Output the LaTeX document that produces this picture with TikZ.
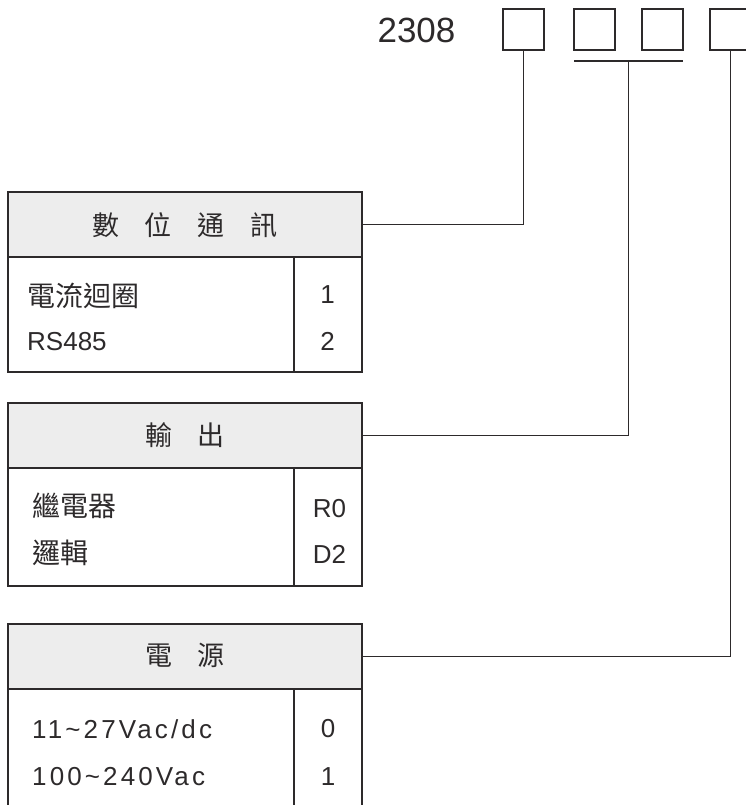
\documentclass[tikz,border=0pt]{standalone}
\usepackage{fontspec}
\setmainfont{Liberation Sans}
\newfontfamily\cjk{Noto Sans CJK TC}
\newfontfamily\spaced[LetterSpace=12]{Liberation Sans}
\definecolor{ink}{RGB}{45,42,43}
\definecolor{hdrfill}{RGB}{237,237,237}
\begin{document}
\begin{tikzpicture}[x=1pt,y=-1pt,
  frame/.style={draw=ink,line width=1.8pt},
  codebox/.style={frame,minimum width=41pt,minimum height=41pt,inner sep=0pt},
  hdr/.style={frame,fill=hdrfill,minimum width=354pt,minimum height=65pt,inner sep=0pt,anchor=north west},
  tbody/.style={frame,minimum width=354pt,inner sep=0pt,anchor=north west},
  conn/.style={draw=ink,line width=1.5pt},
  hdrtext/.style={anchor=base,text=ink,font=\cjk\fontsize{27}{30}\selectfont,inner sep=0pt},
  cjkrow/.style={anchor=base west,text=ink,font=\cjk\fontsize{28}{32}\selectfont,inner sep=0pt},
  latrow/.style={anchor=base west,text=ink,font=\fontsize{26}{30}\selectfont,inner sep=0pt},
  sprow/.style={anchor=base west,text=ink,font=\spaced\fontsize{26}{30}\selectfont,inner sep=0pt},
  codetext/.style={anchor=base,text=ink,font=\fontsize{26}{30}\selectfont,inner sep=0pt}
]
\useasboundingbox (0,0) rectangle (746,805);

% model code
\node[anchor=base,text=ink,font=\fontsize{35}{40}\selectfont,inner sep=0pt] (model) at (416.5,43) {2308};
\node[codebox] (b1) at (523.5,29.5) {};
\node[codebox] (b2) at (594.5,29.5) {};
\node[codebox] (b3) at (662.5,29.5) {};
\node[codebox] (b4) at (730.5,29.5) {};
\coordinate (ul) at (574,61);
\coordinate (ur) at (683,61);
\coordinate (um) at (628.5,61);
\draw[conn] (ul) -- (ur);

% table 1
\node[hdr] (h1) at (7,191) {};
\node[tbody,minimum height=115pt] (t1) at (7,256) {};
\draw[frame] ([xshift=287pt]t1.north west) -- ([xshift=287pt]t1.south west);
\node[hdrtext] (h1t) at (185,235) {數\hspace{26pt}位\hspace{26pt}通\hspace{26pt}訊};
\node[cjkrow] (r11) at (27,306) {電流迴圈};
\node[latrow] (r12) at (27,350) {RS485};
\node[codetext] (c11) at (327.5,303) {1};
\node[codetext] (c12) at (327.5,350) {2};

% table 2
\node[hdr] (h2) at (7,402) {};
\node[tbody,minimum height=118pt] (t2) at (7,467) {};
\draw[frame] ([xshift=287pt]t2.north west) -- ([xshift=287pt]t2.south west);
\node[hdrtext] (h2t) at (185,445) {輸\hspace{26pt}出};
\node[cjkrow] (r21) at (32,516) {繼電器};
\node[cjkrow] (r22) at (32,563) {邏輯};
\node[codetext] (c21) at (329.5,517) {R0};
\node[codetext] (c22) at (329.5,563) {D2};

% table 3
\node[hdr] (h3) at (7,623) {};
\node[tbody,minimum height=142pt] (t3) at (7,688) {};
\draw[frame] ([xshift=287pt]t3.north west) -- ([xshift=287pt]t3.south west);
\node[hdrtext] (h3t) at (185,665) {電\hspace{26pt}源};
\node[sprow] (r31) at (32,738) {11\char126 27Vac/dc};
\node[sprow] (r32) at (32,785) {100\char126 240Vac};
\node[codetext] (c31) at (328,737) {0};
\node[codetext] (c32) at (328,785) {1};

% connectors
\draw[conn] (h1.east) -| (b1.south);
\draw[conn] (h2.east) -| (um);
\draw[conn] (h3.east) -| (b4.south);
\end{tikzpicture}
\end{document}
